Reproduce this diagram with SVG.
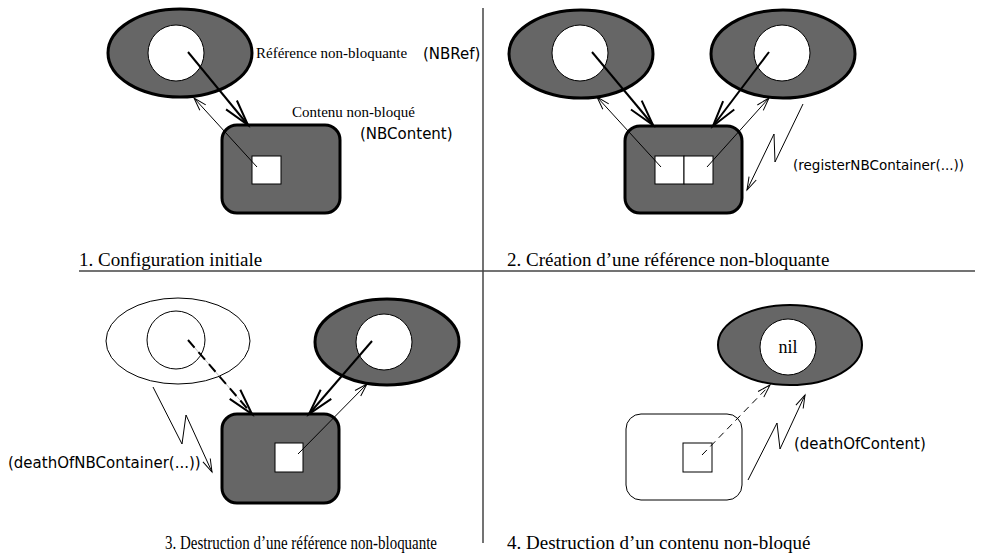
<svg xmlns="http://www.w3.org/2000/svg" width="981" height="560" viewBox="0 0 981 560">
<style>
.ref{fill:#666;stroke:#000;stroke-width:3}
.refl{fill:#666;stroke:#000;stroke-width:2}
.dead{fill:#fff;stroke:#000;stroke-width:1}
.hole{fill:#fff;stroke:#000;stroke-width:1}
.cont{fill:#666;stroke:#000;stroke-width:3}
.contd{fill:#fff;stroke:#000;stroke-width:1}
.thick{fill:none;stroke:#000;stroke-width:2;marker-end:url(#ahk)}
.thin{fill:none;stroke:#000;stroke-width:1;marker-end:url(#ahn)}
.serif{font-family:"Liberation Serif","Times New Roman",serif;fill:#000}
.sans{font-family:"DejaVu Sans","Liberation Sans",sans-serif;font-size:15px;fill:#000}
.cap{font-family:"Liberation Serif","Times New Roman",serif;font-size:19px;fill:#000}
.rule{stroke:#444;stroke-width:1.5;fill:none}
</style>
<defs>
<marker id="ahk" viewBox="0 0 26 16" markerWidth="26" markerHeight="16" refX="26" refY="8" orient="auto" markerUnits="userSpaceOnUse" overflow="visible">
<path d="M0,1 L26,8 L0,15" fill="none" stroke="#000" stroke-width="2"/>
</marker>
<marker id="ahn" viewBox="0 0 13 9" markerWidth="13" markerHeight="9" refX="13" refY="4.5" orient="auto" markerUnits="userSpaceOnUse" overflow="visible">
<path d="M0,0.5 L13,4.5 L0,8.5" fill="none" stroke="#000" stroke-width="1"/>
</marker>
</defs>
<rect width="981" height="560" fill="#fff"/>
<g id="rules">
<line class="rule" x1="79" y1="271" x2="975" y2="271"/>
<line class="rule" x1="483" y1="8" x2="483" y2="543"/>
</g>
<!-- Quadrant 1 -->
<g id="q1-ref">
<ellipse class="ref" cx="180" cy="53" rx="72" ry="44"/>
<circle class="hole" cx="176" cy="53" r="28"/>
</g>
<g id="q1-content">
<rect class="cont" x="222" y="125" width="118" height="88" rx="15"/>
<rect class="hole" x="252" y="156" width="29" height="28"/>
</g>
<g id="q1-labels">
<text class="serif" x="256" y="58" font-size="15">Référence non-bloquante</text>
<text class="sans" x="423" y="59">(NBRef)</text>
<text class="serif" x="292" y="117" font-size="15">Contenu non-bloqué</text>
<text class="sans" x="360" y="139">(NBContent)</text>
<text class="cap" x="79" y="266">1. Configuration initiale</text>
</g>
<!-- Quadrant 2 -->
<g id="q2-ref1">
<ellipse class="ref" cx="581" cy="54" rx="72" ry="44"/>
<circle class="hole" cx="580" cy="53" r="28"/>
</g>
<g id="q2-ref2">
<ellipse class="ref" cx="783" cy="54" rx="72" ry="44"/>
<circle class="hole" cx="782" cy="53" r="28"/>
</g>
<g id="q2-content">
<rect class="cont" x="625" y="126" width="117" height="87" rx="15"/>
<rect class="hole" x="655" y="156" width="29" height="28"/>
<rect class="hole" x="684" y="156" width="29" height="28"/>
</g>
<g id="q2-labels">
<text class="sans" x="793" y="170" style="font-size:13.5px">(registerNBContainer(...))</text>
<text class="cap" x="507" y="266">2. Création d’une référence non-bloquante</text>
</g>
<!-- Quadrant 3 -->
<g id="q3-deadref">
<ellipse class="dead" cx="178" cy="341" rx="72" ry="43"/>
<circle class="hole" cx="176" cy="340" r="29"/>
</g>
<g id="q3-ref">
<ellipse class="ref" cx="387" cy="342" rx="72" ry="43"/>
<circle class="hole" cx="384" cy="342" r="28"/>
</g>
<g id="q3-content">
<rect class="cont" x="222" y="414" width="117" height="89" rx="15"/>
<rect class="hole" x="275" y="443" width="28" height="29"/>
</g>
<g id="q3-labels">
<text class="sans" x="8" y="468">(deathOfNBContainer(...))</text>
<text class="cap" x="165" y="549" textLength="272" lengthAdjust="spacingAndGlyphs">3. Destruction d’une référence non-bloquante</text>
</g>
<!-- Quadrant 4 -->
<g id="q4-ref">
<ellipse class="refl" cx="790" cy="345" rx="72" ry="40"/>
<circle class="hole" cx="788" cy="347" r="28"/>
<text class="serif" x="788" y="353" font-size="18" text-anchor="middle">nil</text>
</g>
<g id="q4-content">
<rect class="contd" x="626" y="414" width="116" height="86" rx="15"/>
<rect class="hole" x="683" y="443" width="29" height="29"/>
</g>
<g id="q4-labels">
<text class="sans" x="794" y="449">(deathOfContent)</text>
<text class="cap" x="507" y="549">4. Destruction d’un contenu non-bloqué</text>
</g>
<g id="connectors">
<!-- q1 -->
<line class="thick" x1="188" y1="52" x2="248" y2="125"/>
<line class="thin" x1="257" y1="167" x2="194" y2="98"/>
<!-- q2 -->
<line class="thick" x1="592" y1="52" x2="653" y2="125"/>
<line class="thick" x1="769" y1="52" x2="713" y2="126"/>
<line class="thin" x1="661" y1="167" x2="597" y2="97"/>
<line class="thin" x1="707" y1="167" x2="769" y2="98"/>
<polyline class="thin" points="803,104 775,162 774,134 747,190"/>
<!-- q3 -->
<line x1="188" y1="340" x2="252" y2="414" stroke="#bbb" stroke-width="1"/>
<line class="thick" x1="188" y1="340" x2="252" y2="414" stroke-dasharray="10,6"/>
<line class="thick" x1="372" y1="341" x2="309" y2="414"/>
<line class="thin" x1="298" y1="454" x2="367" y2="384"/>
<polyline class="thin" points="153,387 182,444 186,415 212,472"/>
<!-- q4 -->
<line class="thin" x1="702" y1="455" x2="770" y2="385" stroke-dasharray="7,5"/>
<polyline class="thin" points="748,480 777,423 780,449 805,395"/>
</g>
</svg>
